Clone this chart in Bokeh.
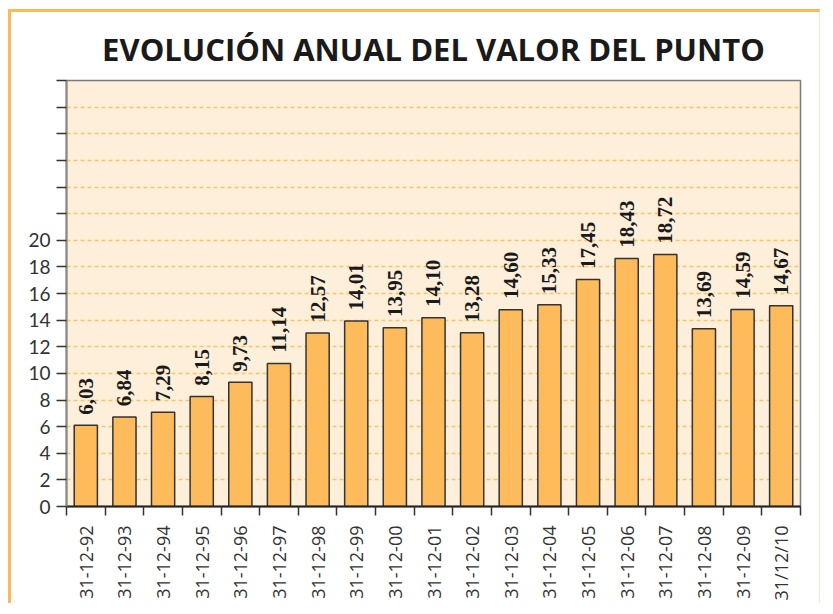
from math import pi
from bokeh.plotting import figure
from bokeh.models import ColumnDataSource, FixedTicker, Range1d, LabelSet
from bokeh.embed import file_html
from bokeh.resources import INLINE

# ---- data ----
dates = ["31-12-92", "31-12-93", "31-12-94", "31-12-95", "31-12-96", "31-12-97",
         "31-12-98", "31-12-99", "31-12-00", "31-12-01", "31-12-02", "31-12-03",
         "31-12-04", "31-12-05", "31-12-06", "31-12-07", "31-12-08", "31-12-09",
         "31/12/10"]
bar_heights = [6.10, 6.73, 7.08, 8.27, 9.33, 10.75, 13.03, 13.93, 13.43, 14.18,
               13.05, 14.78, 15.15, 17.05, 18.63, 18.93, 13.35, 14.80, 15.08]
value_labels = ["6,03", "6,84", "7,29", "8,15", "9,73", "11,14", "12,57", "14,01",
                "13,95", "14,10", "13,28", "14,60", "15,33", "17,45", "18,43",
                "18,72", "13,69", "14,59", "14,67"]
y_ticks = [0, 2, 4, 6, 8, 10, 12, 14, 16, 18, 20, 22, 24, 26, 28, 30, 32]
y_labelled_max = 20

n = len(dates)
centers = [i + 0.5 for i in range(n)]
boundaries = list(range(n + 1))
label_y = [h + 0.8 for h in bar_heights]

src = ColumnDataSource(dict(x=centers, top=bar_heights, lab=value_labels, ly=label_y))

p = figure(width=812, height=594, x_range=Range1d(0, n), y_range=Range1d(0, y_ticks[-1]),
           output_backend="svg", toolbar_location=None,
           title="EVOLUCIÓN ANUAL DEL VALOR DEL PUNTO",
           min_border_left=55, min_border_right=23, min_border_top=68, min_border_bottom=100)

p.styles = {"margin-left": "8px", "margin-top": "9px",
            "border-top": "3px solid #fcb95b", "border-left": "3px solid #fcb95b",
            "border-right": "1px solid #fde6c2"}

p.background_fill_color = "#fdefd9"
p.border_fill_color = "white"
p.outline_line_color = "#7a7a7a"
p.outline_line_width = 1.5

p.title.text_font = "Open Sans"
p.title.text_font_style = "bold"
p.title.text_font_size = "31px"
p.title.text_color = "#1a1a1a"
p.title.align = "center"
p.title.standoff = 22

p.vbar(x="x", top="top", bottom=0, width=0.6, source=src,
       fill_color="#fdbb5c", line_color="#333333", line_width=1.5)

labels = LabelSet(x="x", y="ly", text="lab", source=src, angle=pi / 2, angle_units="rad",
                  text_align="left", text_baseline="middle",
                  text_font="Liberation Serif", text_font_style="bold",
                  text_font_size="21px", text_color="#1a1a1a")
p.add_layout(labels)

# x axis: labels at centers, tick marks at category boundaries
p.xaxis.ticker = FixedTicker(ticks=centers, minor_ticks=boundaries)
p.xaxis.major_label_overrides = {c: d for c, d in zip(centers, dates)}
p.xaxis.major_label_orientation = pi / 2
p.xaxis.major_tick_out = 0
p.xaxis.major_tick_in = 0
p.xaxis.minor_tick_out = 9
p.xaxis.minor_tick_in = 0
p.xaxis.minor_tick_line_color = "#333333"
p.xaxis.minor_tick_line_width = 1.5
p.xaxis.axis_line_color = "#222222"
p.xaxis.axis_line_width = 2
p.xaxis.major_label_text_font = "Open Sans"
p.xaxis.major_label_text_font_size = "18px"
p.xaxis.major_label_text_color = "#333333"
p.xaxis.major_label_standoff = 10

# y axis
p.yaxis.ticker = FixedTicker(ticks=y_ticks, minor_ticks=[])
p.yaxis.major_label_overrides = {t: (str(t) if t <= y_labelled_max else "") for t in y_ticks}
p.yaxis.major_tick_out = 10
p.yaxis.major_tick_in = 0
p.yaxis.major_tick_line_color = "#333333"
p.yaxis.major_tick_line_width = 1.5
p.yaxis.axis_line_color = "#888888"
p.yaxis.axis_line_width = 2
p.yaxis.major_label_text_font = "Lato"
p.yaxis.major_label_text_font_size = "19px"
p.yaxis.major_label_text_color = "#333333"
p.yaxis.major_label_standoff = 6

p.xgrid.visible = False
p.ygrid.ticker = FixedTicker(ticks=y_ticks, minor_ticks=[])
p.ygrid.grid_line_color = "#fcc46a"
p.ygrid.grid_line_dash = "4 3"
p.ygrid.grid_line_width = 1.3

open("out.html", "w").write(file_html(p, INLINE))
